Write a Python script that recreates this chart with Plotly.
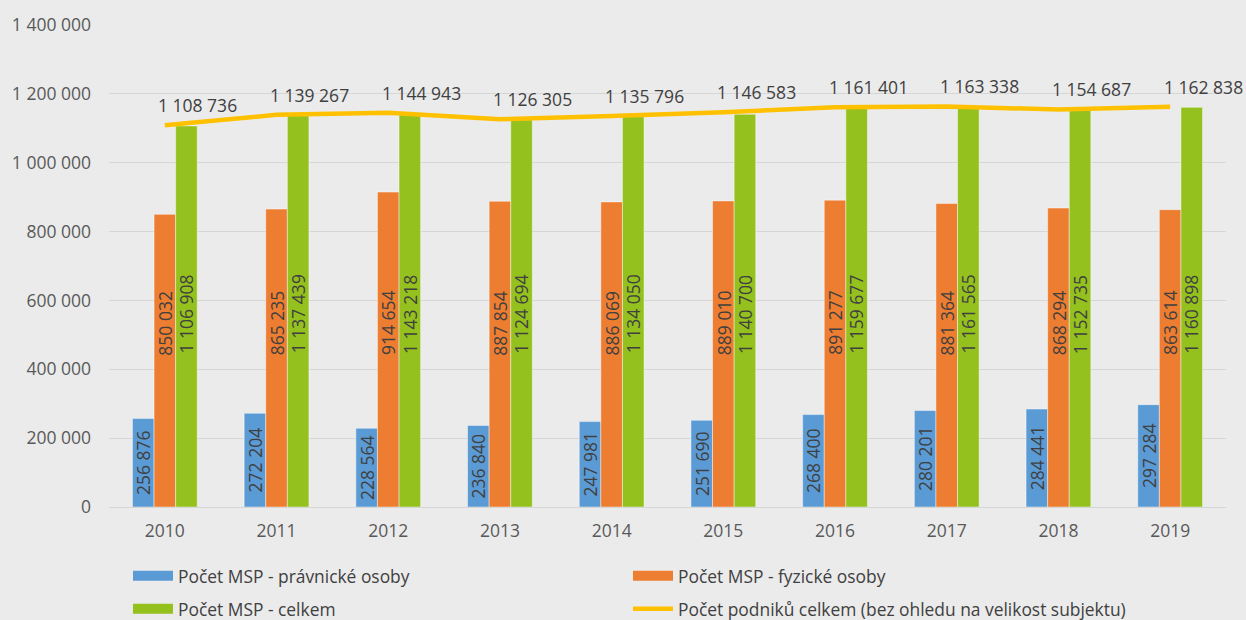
import plotly.graph_objects as go

years = ["2010", "2011", "2012", "2013", "2014", "2015", "2016", "2017", "2018", "2019"]
pravnicke = [256876, 272204, 228564, 236840, 247981, 251690, 268400, 280201, 284441, 297284]
fyzicke = [850032, 865235, 914654, 887854, 886069, 889010, 891277, 881364, 868294, 863614]
celkem_msp = [1106908, 1137439, 1143218, 1124694, 1134050, 1140700, 1159677, 1161565, 1152735, 1160898]
podniky = [1108736, 1139267, 1144943, 1126305, 1135796, 1146583, 1161401, 1163338, 1154687, 1162838]
y_ticks = [0, 200000, 400000, 600000, 800000, 1000000, 1200000, 1400000]

names = [
    "Počet MSP - právnické osoby",
    "Počet MSP - fyzické osoby",
    "Počet MSP - celkem",
    "Počet podniků celkem (bez ohledu na velikost subjektu)",
]
colors = ["#5B9BD5", "#ED7D31", "#95C11F", "#FFC000"]

FONT = "Open Sans"
TXT = "#404040"
FS = 17.5
ORANGE_LABEL_Y = 535000
GREEN_LABEL_Y = 560000


def fmt(v):
    return f"{v:,}".replace(",", " ")


fig = go.Figure()
bar_line = dict(color="rgba(255,255,255,0.55)", width=0.8)
fig.add_trace(go.Bar(
    x=years, y=pravnicke, name=names[0], marker=dict(color=colors[0], line=bar_line),
    text=[fmt(v) for v in pravnicke], textposition="inside", insidetextanchor="middle",
    textangle=-90, textfont=dict(family=FONT, size=FS, color=TXT), showlegend=False,
))
fig.add_trace(go.Bar(
    x=years, y=fyzicke, name=names[1], marker=dict(color=colors[1], line=bar_line),
    showlegend=False,
))
fig.add_trace(go.Bar(
    x=years, y=celkem_msp, name=names[2], marker=dict(color=colors[2], line=bar_line),
    showlegend=False,
))

# legend-only entries drawn as wide rectangles, like the original legend keys
for k, leg in [(0, "legend"), (1, "legend"), (2, "legend2")]:
    fig.add_trace(go.Scatter(
        x=[None], y=[None], mode="lines", name=names[k],
        line=dict(color=colors[k], width=10), legend=leg, hoverinfo="skip",
    ))

fig.add_trace(go.Scatter(
    x=years, y=podniky, name=names[3], mode="lines",
    line=dict(color=colors[3], width=4.5), legend="legend2",
))

annotations = []
for i, v in enumerate(fyzicke):
    annotations.append(dict(x=i, y=ORANGE_LABEL_Y, text=fmt(v), showarrow=False, textangle=-90,
                            xshift=0, font=dict(family=FONT, size=FS, color=TXT)))
for i, v in enumerate(celkem_msp):
    annotations.append(dict(x=i, y=GREEN_LABEL_Y, text=fmt(v), showarrow=False, textangle=-90,
                            xshift=21.5, font=dict(family=FONT, size=FS, color=TXT)))
for i, v in enumerate(podniky):
    annotations.append(dict(x=i, y=v, text=fmt(v), showarrow=False,
                            xshift=33, yshift=20, font=dict(family=FONT, size=FS, color=TXT)))

legend_common = dict(orientation="h", entrywidth=445, font=dict(family=FONT, size=17.4, color=TXT),
                     bgcolor="rgba(0,0,0,0)", xanchor="left", yanchor="middle", itemwidth=40,
                     xref="container", yref="container", traceorder="normal")

fig.update_layout(
    width=1246, height=620,
    margin=dict(l=106, r=20, t=21, b=113),
    paper_bgcolor="#EBEBEB", plot_bgcolor="#EBEBEB",
    barmode="group", bargap=0.42, bargroupgap=0,
    separators=", ",
    uniformtext=dict(minsize=FS, mode="show"),
    font=dict(family=FONT, size=FS, color=TXT),
    xaxis=dict(type="category", range=[-0.5, len(years) - 0.5], showgrid=False, ticks="",
               tickfont=dict(family=FONT, size=FS, color="#595959"),
               showline=False, zeroline=False, ticklabelstandoff=11),
    yaxis=dict(range=[0, 1400000], tickvals=y_ticks, ticktext=[fmt(v) for v in y_ticks],
               showgrid=True, gridcolor="#D6D6D6", gridwidth=1.2, zeroline=True,
               zerolinecolor="#D6D6D6", zerolinewidth=1.2, ticks="",
               tickfont=dict(family=FONT, size=FS, color="#595959"), ticklabelstandoff=17),
    legend=dict(legend_common, x=128 / 1246, y=1 - 576 / 620),
    legend2=dict(legend_common, x=128 / 1246, y=1 - 609 / 620),
    annotations=annotations,
    showlegend=True,
)

fig.write_html("out.html", config={"displayModeBar": False},
               post_script="document.body.style.margin='0';document.body.style.background='#EBEBEB';")
